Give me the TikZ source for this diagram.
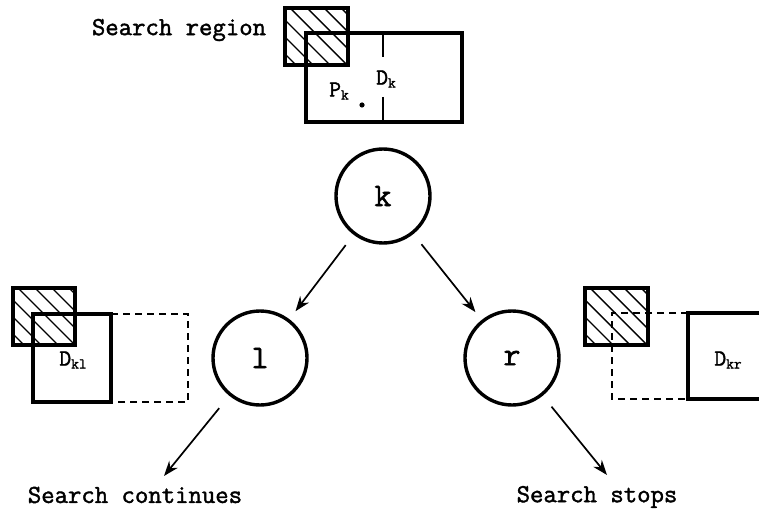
\documentclass[tikz,border=0pt]{standalone}
\usepackage{fontspec}
\setmonofont{Latin Modern Mono}[FakeBold=1.6]
\usetikzlibrary{arrows.meta}

% small lowered subscript in the typewriter face
\newcommand\lowsub[1]{{\fontsize{15}{15}\selectfont\raisebox{-3pt}{#1}}}

% square with diagonal hatching: \hatchbox{x1}{y1}{x2}{y2}
\newcommand\hatchbox[4]{%
  \begin{scope}
    \clip (#1,#2) rectangle (#3,#4);
    \foreach \t in {-84,-67,...,84}
      \draw[hatch] (#1+\t,#2-4) -- ++(80,80);
  \end{scope}
  \draw[box] (#1,#2) rectangle (#3,#4);
}

\begin{document}
\begin{tikzpicture}[x=1pt,y=-1pt,
  box/.style={line width=3.6pt},
  thinbox/.style={line width=2.4pt},
  dashbox/.style={line width=2.2pt, dash pattern=on 7pt off 5pt},
  hatch/.style={line width=1.4pt},
  vertex/.style={circle, draw, line width=3.4pt, minimum size=94pt, inner sep=0pt,
                 font=\fontsize{33}{33}\ttfamily},
  edge/.style={-{Stealth[length=15pt,width=11pt]}, line width=1.7pt},
  lbl/.style={inner sep=0pt, font=\fontsize{26}{28}\ttfamily},
  dlbl/.style={inner sep=0pt, font=\fontsize{23}{25}\ttfamily}]
\useasboundingbox (0,0) rectangle (759,510);

% --- top: the region D_k of node k and the search region
\draw[box] (306,33) rectangle (462,122);
\draw[thinbox] (383,33) -- (383,57);
\draw[thinbox] (383,97) -- (383,122);
\fill (362,105) circle (2.6pt);
\hatchbox{285}{8}{348}{65}
\node[lbl] (sr) at (179,30) {Search region};
\node[dlbl] (dk) at (386,79) {D\lowsub{k}};
\node[dlbl] (pk) at (339,91) {P\lowsub{k}};

% --- the tree
\node[vertex] (k) at (383,196) {k};
\node[vertex] (l) at (260,358) {l};
\node[vertex] (r) at (512,358) {r};

\draw[edge, shorten <=13pt, shorten >=10pt] (k) -- (l);
\draw[edge, shorten <=13pt, shorten >=10pt] (k) -- (r);

\coordinate (cont) at (164,476);
\coordinate (stop) at (607,475);
\draw[edge, shorten <=16pt] (l) -- (cont);
\draw[edge, shorten <=14pt] (r) -- (stop);

\node[lbl] (sc) at (135,495) {Search continues};
\node[lbl] (ss) at (597,497) {Search stops};

% --- left child: D_kl still meets the search region
\draw[dashbox] (111,314) -- (188,314) -- (188,402) -- (111,402);
\draw[box] (33,314) rectangle (111,402);
\hatchbox{13}{288}{75}{345}
\node[dlbl] (dkl) at (73,360) {D\lowsub{kl}};

% --- right child: D_kr misses the search region
\draw[dashbox] (688,313) -- (612,313) -- (612,399) -- (688,399);
\draw[box] (762,313) -- (688,313) -- (688,399) -- (762,399);
\hatchbox{585}{288}{648}{345}
\node[dlbl] (dkr) at (728,360) {D\lowsub{kr}};
\end{tikzpicture}
\end{document}
